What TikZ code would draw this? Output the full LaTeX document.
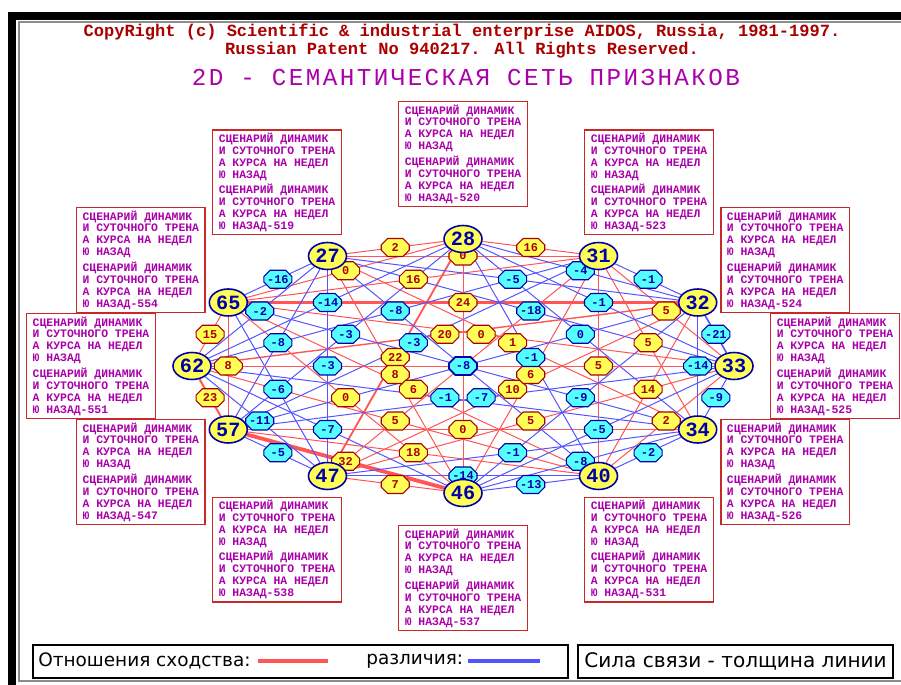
\documentclass[tikz,border=0pt]{standalone}
\usepackage{fontspec}
\newfontfamily\dosfont{Liberation Mono}
\newfontfamily\titlefont[LetterSpace=10]{Liberation Mono}
\newfontfamily\legfont{DejaVu Sans}
\usetikzlibrary{shapes.geometric,shapes.misc,calc}

\pgfdeclarelayer{bg}
\pgfdeclarelayer{fg}
\pgfsetlayers{bg,main,fg}

\definecolor{linkred}{RGB}{255,85,85}
\definecolor{linkblue}{RGB}{85,85,255}
\definecolor{dosyellow}{RGB}{255,255,85}
\definecolor{doscyan}{RGB}{85,255,255}
\definecolor{dosred}{RGB}{170,0,0}
\definecolor{dosblue}{RGB}{0,0,170}
\definecolor{dosmagenta}{RGB}{170,0,170}
\definecolor{boxred}{RGB}{200,40,40}

\tikzset{
  featnode/.style={ellipse, draw=dosblue, line width=0.9pt, fill=dosyellow,
    text=dosblue, font=\dosfont\bfseries\fontsize{11.5}{11.5}\selectfont,
    minimum width=0.76cm, minimum height=0.54cm, inner sep=0pt},
  weight/.style={chamfered rectangle, chamfered rectangle xsep=1.8pt,
    chamfered rectangle ysep=1.8pt,
    line width=0.6pt, inner sep=0pt, minimum width=0.56cm, minimum height=0.36cm,
    font=\dosfont\bfseries\fontsize{6.8}{7}\selectfont},
  simw/.style={weight, draw=dosred, fill=dosyellow, text=dosred},
  difw/.style={weight, draw=dosblue, fill=doscyan, text=dosblue},
  simlink/.style={draw=linkred},
  diflink/.style={draw=linkblue},
  scenbox/.style={draw=boxred, line width=0.7pt, fill=white, text=dosmagenta,
    align=left, font=\dosfont\bfseries\fontsize{6.5}{6.8}\selectfont,
    inner xsep=0.12cm, inner ysep=0.06cm},
  legbox/.style={draw=black, line width=0.8pt, minimum height=0.66cm},
  legtext/.style={font=\legfont\fontsize{10.5}{12}\selectfont, inner sep=0pt}
}

% links: node/node/weight
\def\simlinks{33/31/5, 31/28/16, 28/27/2, 31/27/0, 28/65/0, 31/65/16,
  32/65/24, 65/62/15, 62/57/23, 65/57/8, 32/62/20, 28/47/22, 27/46/8,
  65/40/6, 57/46/32, 57/40/18, 47/46/7, 62/40/5, 57/34/0, 33/47/5,
  40/33/2, 40/32/14, 34/31/5, 40/31/5, 65/33/0, 47/32/10, 46/31/6,
  34/27/1, 65/46/0}
\def\diflinks{33/32/-21, 32/31/-1, 27/65/-16, 57/47/-5, 46/40/-13,
  40/34/-2, 34/33/-9, 32/28/-4, 27/62/-2, 62/47/-11, 47/40/-14,
  46/34/-8, 34/32/-14, 33/28/-1, 32/27/-5, 28/62/-14, 27/57/-8,
  65/47/-6, 62/46/-7, 47/34/-1, 46/33/-5, 33/27/-18, 31/62/-8,
  28/57/-3, 27/47/-3, 46/32/-9, 34/28/0, 31/57/-3, 62/34/-1,
  57/33/-7, 40/28/-1}

\begin{document}
\begin{tikzpicture}[x=0.02cm,y=-0.02cm]
  \useasboundingbox (0,0) rectangle (901,685);
  % screen frame
  \fill[black] (8,12) rectangle (901,20);
  \fill[black] (8,12) rectangle (16,685);
  \draw[black!45, line width=0.6pt] (901,22) -- (19,22) -- (19,681) -- (901,681);

  \node[text=dosred, align=center, inner sep=0pt,
    font=\dosfont\bfseries\fontsize{9.7}{9.7}\selectfont] (copy) at (462,41)
    {CopyRight (c) Scientific \& industrial enterprise AIDOS, Russia, 1981-1997.\\
     Russian Patent No 940217. All Rights Reserved.};
  \node[text=dosmagenta, inner sep=0pt,
    font=\titlefont\fontsize{13.8}{14}\selectfont] (title) at (466,78)
    {2D - СЕМАНТИЧЕСКАЯ СЕТЬ ПРИЗНАКОВ};

  % features on the ellipse
  \begin{pgfonlayer}{fg}
  \foreach \a/\n/\c in {0/33/525,30/32/524,60/31/523,90/28/520,120/27/519,
      150/65/554,180/62/551,210/57/547,240/47/538,270/46/537,300/40/531,330/34/526} {
    \node[featnode] (n\n) at ({463+271*cos(\a)},{366-127*sin(\a)}) {\n};
    \node[scenbox] (b\n) at ({463+372*cos(\a)},{366-212*sin(\a)})
      {СЦЕНАРИЙ ДИНАМИК\\И СУТОЧНОГО ТРЕНА\\А КУРСА НА НЕДЕЛ\\Ю НАЗАД\\[2pt]
       СЦЕНАРИЙ ДИНАМИК\\И СУТОЧНОГО ТРЕНА\\А КУРСА НА НЕДЕЛ\\Ю НАЗАД-\c};
  }
  \end{pgfonlayer}

  % links, width grows with strength
  \begin{pgfonlayer}{bg}
  \foreach \i/\j/\w in \simlinks {
    \pgfmathsetmacro\lw{0.57*(1+max(0,abs(\w)-18)/5)}
    \draw[simlink, line width=\lw pt] (n\i) -- (n\j);
  }
  \foreach \i/\j/\w in \diflinks {
    \pgfmathsetmacro\lw{0.57*(1+max(0,abs(\w)-18)/5)}
    \draw[diflink, line width=\lw pt] (n\i) -- (n\j);
  }
  % through the centre
  \foreach \i/\j/\s in {33/62/simlink,28/46/simlink,31/47/simlink,
      32/57/diflink,65/34/diflink,27/40/diflink}
    \draw[\s, line width=0.57pt] (n\i) -- (n\j);
  \end{pgfonlayer}

  \foreach \i/\j/\w in \simlinks
    \node[simw] (w\i\j) at ($(n\i)!0.5!(n\j)$) {\w};
  \foreach \i/\j/\w in \diflinks
    \node[difw] (w\i\j) at ($(n\i)!0.5!(n\j)$) {\w};
  \node[difw, line width=1pt] (wctr) at ($(n33)!0.5!(n62)$) {-8};

  % legend
  \node[legbox, minimum width=10.7cm] (leg1) at (300.5,661.5) {};
  \node[legbox, minimum width=6.3cm] (leg2) at (735.5,661.5) {};
  \node[legtext, anchor=west] (lsim) at (38,661) {Отношения сходства:};
  \coordinate (rs) at (258,661);
  \coordinate (re) at (328,661);
  \draw[simlink, line width=2.3pt] (rs) -- (re);
  \node[legtext, anchor=west] (ldif) at (366,661) {различия:};
  \coordinate (bs) at (468,661);
  \coordinate (be) at (540,661);
  \draw[diflink, line width=2.3pt] (bs) -- (be);
  \node[legtext, font=\legfont\fontsize{11.4}{12}\selectfont] (lpow) at (leg2)
    {Сила связи - толщина линии};
\end{tikzpicture}
\end{document}
